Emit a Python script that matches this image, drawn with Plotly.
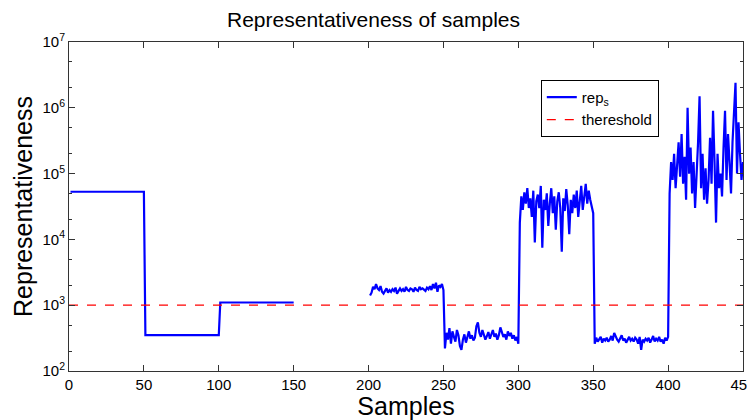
import numpy as np
import plotly.graph_objects as go

# ---- data ----
seg_levels = [53000, 350, 1100]          # constant segments: samples 1-50, 51-100, 101-150
s200 = [1400,1550,1900,1750,2100,1800,1700,1950,1600,1500,
        1650,1800,1550,1700,1600,1750,1650,1850,1500,1700,
        1800,1650,1750,1600,1900,1700,1650,1800,1750,1600,
        1850,1700,1650,1900,1750,1800,1700,1650,1850,1750,
        1950,1700,2100,1800,2200,1600,2000,1900,2100,1700]
s250 = [220,380,300,450,260,400,330,280,420,350,
        240,210,300,360,270,330,400,310,350,290,
        320,480,550,380,330,420,360,300,340,390,
        310,350,420,330,370,300,350,460,380,330,
        360,300,400,340,380,310,350,290,330,260]
s300 = [18000,45000,28000,52000,35000,60000,30000,42000,22000,55000,
        9000,38000,48000,30000,65000,7500,40000,28000,50000,16000,
        35000,60000,25000,45000,14000,38000,52000,30000,6500,42000,
        27000,58000,33000,12000,40000,25000,48000,30000,55000,22000,
        38000,65000,28000,45000,70000,35000,55000,40000,30000,25000]
s350 = [260,320,280,300,330,270,310,290,320,280,
        300,340,290,380,330,300,280,320,350,290,
        310,270,300,330,290,310,280,320,300,260,
        330,210,300,280,310,290,320,270,300,340,
        280,310,290,330,280,300,260,320,290,330]
s400 = [50000,150000,80000,200000,60000,120000,300000,90000,400000,70000,
        180000,40000,1000000,100000,250000,50000,150000,30000,90000,300000,
        1500000,60000,200000,40000,120000,35000,80000,350000,70000,900000,
        150000,18000,200000,60000,100000,45000,250000,900000,80000,400000,
        150000,50000,300000,700000,2400000,100000,600000,200000,80000,150000]
threshold = 1000
x_ticks = [0, 50, 100, 150, 200, 250, 300, 350, 400, 450]
y_exps = [2, 3, 4, 5, 6, 7]

seg_len = 50
y = []
for lv in seg_levels:
    y += [lv] * seg_len
y += [None] * seg_len          # missing samples 151-200
y += s200 + s250 + s300 + s350 + s400
x = list(range(1, len(y) + 1))

fig = go.Figure()
fig.add_trace(go.Scatter(x=x, y=y, mode="lines", name="rep<sub>s</sub>",
                         line=dict(color="#0000FF", width=2.2), connectgaps=False))
fig.add_trace(go.Scatter(x=[x_ticks[0], x_ticks[-1]], y=[threshold, threshold], mode="lines",
                         name="thereshold", line=dict(color="#FF0000", width=1.3, dash="dash")))

font_family = "Liberation Sans, Arial, sans-serif"
axis_col = "#333333"
fig.update_layout(
    width=747, height=420,
    margin=dict(l=69, r=4, t=42, b=49),
    paper_bgcolor="white", plot_bgcolor="white",
    font=dict(family=font_family, color="black", size=15),
    title=dict(text="Representativeness of samples", x=0.5, xanchor="center",
               y=1 - 20 / 420, yanchor="middle", font=dict(size=21)),
    showlegend=True,
    legend=dict(x=0.70, y=0.885, xanchor="left", yanchor="top",
                bgcolor="white", bordercolor="black", borderwidth=1,
                font=dict(size=15), itemwidth=30, tracegroupgap=2),
)
fig.update_xaxes(range=[0, 450], tickvals=x_ticks, ticks="inside", ticklen=6,
                 tickcolor=axis_col, showline=True, linecolor=axis_col, linewidth=1,
                 mirror="ticks", showgrid=False, zeroline=False, automargin=False,
                 tickfont=dict(size=15), ticklabeloverflow="allow",
                 title=dict(text="Samples", font=dict(size=25), standoff=1))
fig.update_yaxes(type="log", range=[2, 7],
                 tickvals=[10 ** e for e in y_exps],
                 ticktext=[f"10<sup>{e}</sup>" for e in y_exps],
                 ticks="inside", ticklen=6, tickcolor=axis_col,
                 minor=dict(ticks="inside", ticklen=3, tickcolor=axis_col, showgrid=False),
                 showline=True, linecolor=axis_col, linewidth=1, mirror="ticks",
                 showgrid=False, zeroline=False, tickfont=dict(size=15), automargin=False,
                 title=dict(text="Representativeness", font=dict(size=25), standoff=2))

fig.write_html("out.html")
